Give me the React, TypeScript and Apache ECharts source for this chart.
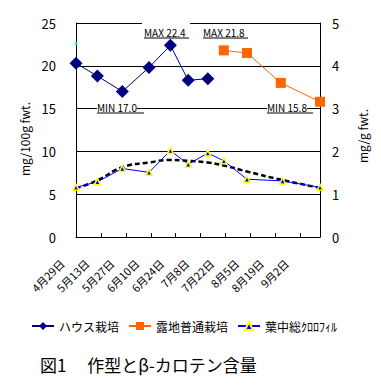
import React, { useEffect, useRef } from "react";
import * as echarts from "echarts";

const tickLabels = ["4月29日", "5月13日", "5月27日", "6月10日", "6月24日", "7月8日", "7月22日", "8月5日", "8月19日", "9月2日"];

const houseDays = [0, 12, 26, 41, 53, 63, 74];
const houseValues = [20.3, 18.8, 17.0, 19.8, 22.4, 18.3, 18.5];

const fieldDays = [83, 96, 115, 137];
const fieldValues = [21.8, 21.5, 18.0, 15.8];

const chloroDays = [0, 12, 26, 41, 53, 63, 74, 83, 96, 116, 137];
const chloroValues = [1.16, 1.29, 1.6, 1.51, 2.02, 1.7, 1.96, 1.78, 1.35, 1.31, 1.16];
const trendValues = [1.14, 1.32, 1.63, 1.74, 1.8, 1.78, 1.74, 1.67, 1.53, 1.33, 1.15];

const strayDays = [0];
const strayValues = [22.6];

const FONT = "'Noto Sans CJK JP', sans-serif";

const zip = (xs: number[], ys: number[]) => xs.map((x, i) => [x, ys[i]]);

const annotation = (text: string, x: number, y: number, w: number) => [
  {
    type: "text",
    x,
    y,
    style: { text, fill: "#000", font: `10px ${FONT}`, textVerticalAlign: "middle", backgroundColor: "#fff" },
    z: 100,
  },
  {
    type: "line",
    shape: { x1: x, y1: y + 6, x2: x + w, y2: y + 6 },
    style: { stroke: "#000", lineWidth: 1 },
    z: 100,
  },
];

export default function App() {
  const ref = useRef<HTMLDivElement>(null);
  useEffect(() => {
    if (!ref.current) return;
    const chart = echarts.init(ref.current, null, { renderer: "svg" });
    chart.setOption({
      animation: false,
      backgroundColor: "#fff",
      title: {
        text: "図1　 作型とβ-カロテン含量",
        left: 35,
        top: 351,
        textStyle: { fontFamily: FONT, fontSize: 17, fontWeight: "normal", color: "#000" },
      },
      legend: {
        left: 26,
        top: 315,
        itemWidth: 22,
        itemHeight: 10,
        itemGap: 9,
        textStyle: { fontFamily: FONT, fontSize: 12, color: "#000" },
        data: ["ハウス栽培", "露地普通栽培", "葉中総ｸﾛﾛﾌｨﾙ"],
      },
      grid: { left: 76, right: 61, top: 23, bottom: 155 },
      xAxis: {
        type: "value",
        min: 0,
        max: 137,
        interval: 14,
        axisLine: { lineStyle: { color: "#000", width: 1 } },
        axisTick: { inside: true, length: 4, lineStyle: { color: "#000" } },
        splitLine: { show: false },
        axisLabel: {
          rotate: 45,
          margin: 10,
          padding: [0, 20, 0, 0],
          fontFamily: FONT,
          fontSize: 11,
          color: "#000",
          showMaxLabel: false,
          formatter: (v: number) => {
            const i = Math.round(v / 14);
            return Math.abs(v - i * 14) < 0.01 && i < tickLabels.length ? tickLabels[i] : "";
          },
        },
      },
      yAxis: [
        {
          type: "value",
          min: 0,
          max: 25,
          interval: 5,
          name: "mg/100g fwt.",
          nameLocation: "middle",
          nameGap: 44,
          nameRotate: 90,
          nameTextStyle: { fontFamily: FONT, fontSize: 12, color: "#000", padding: [0, 0, 0, -18] },
          axisLine: { show: true, lineStyle: { color: "#000" } },
          axisTick: { show: false },
          splitLine: { show: true, lineStyle: { color: "#000", width: 1 } },
          axisLabel: { margin: 20, fontFamily: FONT, fontSize: 13, color: "#000" },
        },
        {
          type: "value",
          min: 0,
          max: 5,
          interval: 1,
          position: "right",
          name: "mg/g fwt.",
          nameLocation: "middle",
          nameGap: 36,
          nameRotate: 90,
          nameTextStyle: { fontFamily: FONT, fontSize: 12, color: "#000", padding: [0, 0, 0, -12] },
          axisLine: { show: true, lineStyle: { color: "#000" } },
          axisTick: { show: false },
          splitLine: { show: false },
          axisLabel: { margin: 12, fontFamily: FONT, fontSize: 13, color: "#000" },
        },
      ],
      series: [
        {
          name: "ハウス栽培",
          type: "line",
          data: zip(houseDays, houseValues),
          symbol: "diamond",
          symbolSize: 13,
          itemStyle: { color: "#000080" },
          lineStyle: { color: "#000080", width: 1 },
          z: 5,
        },
        {
          name: "露地普通栽培",
          type: "line",
          data: zip(fieldDays, fieldValues),
          symbol: "rect",
          symbolSize: 10,
          itemStyle: { color: "#FF6600" },
          lineStyle: { color: "#FF6600", width: 1 },
          z: 5,
        },
        {
          name: "葉中総ｸﾛﾛﾌｨﾙ",
          type: "line",
          yAxisIndex: 1,
          data: zip(chloroDays, chloroValues),
          symbol: "triangle",
          symbolSize: 6,
          itemStyle: { color: "#0000FF", borderColor: "#FFFF00", borderWidth: 1.5 },
          lineStyle: { color: "#0000FF", width: 1 },
          z: 4,
        },
        {
          name: "trend",
          type: "line",
          yAxisIndex: 1,
          data: zip(chloroDays, trendValues),
          smooth: true,
          showSymbol: false,
          symbol: "none",
          lineStyle: { color: "#000", width: 2.5, type: [5, 3] },
          z: 3,
        },
        {
          name: "stray",
          type: "scatter",
          data: zip(strayDays, strayValues),
          symbol: "rect",
          symbolSize: 3,
          itemStyle: { color: "#00FFFF" },
          z: 6,
        },
      ],
      graphic: [
        { type: "rect", shape: { x: 142, y: 20, width: 48, height: 8 }, style: { fill: "#fff" }, z: 99 },
        ...annotation("MAX 22.4", 144, 32, 45),
        ...annotation("MAX 21.8", 203, 32, 45),
        ...annotation("MIN 17.0", 97, 107, 47),
        ...annotation("MIN 15.8", 267, 107, 46),
      ],
    });
    return () => chart.dispose();
  }, []);
  return <div ref={ref} style={{ position: "absolute", left: 0, top: 0, width: 381, height: 392 }} />;
}
